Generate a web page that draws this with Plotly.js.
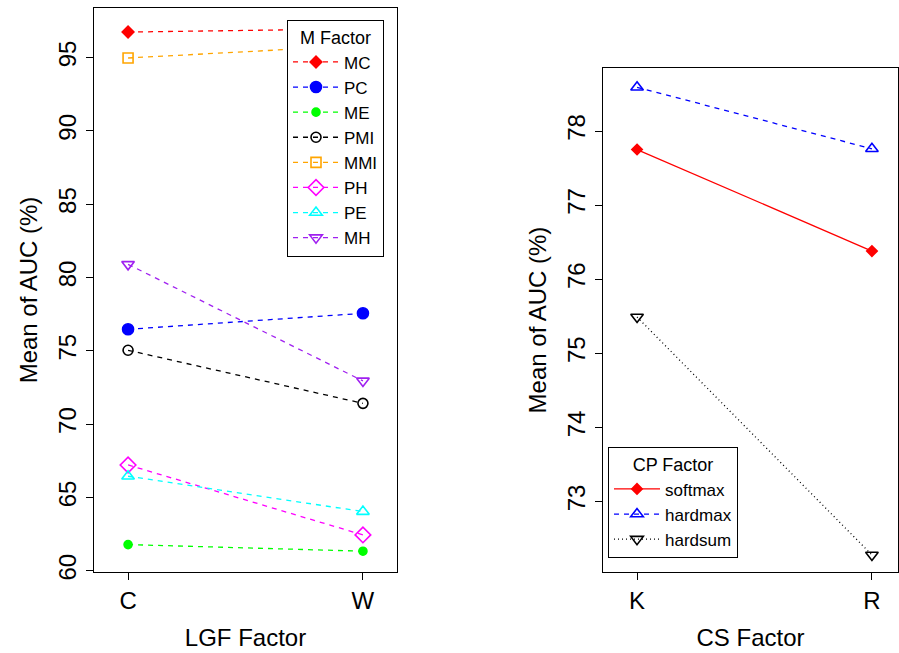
<!DOCTYPE html>
<html>
<head>
<meta charset="utf-8">
<script src="https://cdn.plot.ly/plotly-3.0.1.min.js"></script>
<style>html,body{margin:0;padding:0;background:#fff;}#plot{width:899px;height:653px;}</style>
</head>
<body>
<div id="plot"></div>
<script>
// ---- Left panel data: Mean AUC (%) by LGF factor and M factor ----
const lgfLevels = ['C', 'W'];
const mNames = ['MC', 'PC', 'ME', 'PMI', 'MMI', 'PH', 'PE', 'MH'];
const mcVals  = [96.74, 96.96];
const pcVals  = [76.47, 77.56];
const meVals  = [61.79, 61.34];
const pmiVals = [75.04, 71.42];
const mmiVals = [94.97, 95.83];
const phVals  = [67.22, 62.45];
const peVals  = [66.45, 64.04];
const mhVals  = [80.90, 72.95];

// ---- Right panel data: Mean AUC (%) by CS factor and CP factor ----
const csLevels = ['K', 'R'];
const cpNames = ['softmax', 'hardmax', 'hardsum'];
const softmaxVals = [77.75, 76.38];
const hardmaxVals = [78.59, 77.76];
const hardsumVals = [75.49, 72.28];

const FONT = 'Liberation Sans, Arial, Helvetica, sans-serif';

const leftValues = [mcVals, pcVals, meVals, pmiVals, mmiVals, phVals, peVals, mhVals];
const leftStyles = [
  {color: '#FF0000', symbol: 'diamond', size: 9},
  {color: '#0000FF', symbol: 'circle', size: 11},
  {color: '#00FF00', symbol: 'circle', size: 8},
  {color: '#000000', symbol: 'circle-open', size: 10},
  {color: '#FFA500', symbol: 'square-open', size: 10},
  {color: '#FF00FF', symbol: 'diamond-open', size: 12},
  {color: '#00FFFF', symbol: 'triangle-up-open', size: 11},
  {color: '#A020F0', symbol: 'triangle-down-open', size: 11}
];

const traces = [];
mNames.forEach((name, i) => {
  const s = leftStyles[i];
  traces.push({
    type: 'scatter', mode: 'lines+markers', name: name,
    x: lgfLevels, y: leftValues[i], xaxis: 'x', yaxis: 'y',
    legend: 'legend',
    line: {color: s.color, width: 1.3, dash: '5px,5px'},
    marker: {color: s.color, symbol: s.symbol, size: s.size, line: {color: s.color, width: 1.6}}
  });
});

const rightValues = [softmaxVals, hardmaxVals, hardsumVals];
const rightStyles = [
  {color: '#FF0000', symbol: 'diamond', size: 8, dash: 'solid'},
  {color: '#0000FF', symbol: 'triangle-up-open', size: 11, dash: '5px,5px'},
  {color: '#000000', symbol: 'triangle-down-open', size: 11, dash: '1px,3px'}
];
cpNames.forEach((name, i) => {
  const s = rightStyles[i];
  traces.push({
    type: 'scatter', mode: 'lines+markers', name: name,
    x: csLevels, y: rightValues[i], xaxis: 'x2', yaxis: 'y2',
    legend: 'legend2',
    line: {color: s.color, width: 1.3, dash: s.dash},
    marker: {color: s.color, symbol: s.symbol, size: s.size, line: {color: s.color, width: 1.6}}
  });
});

const axBase = {
  showline: true, mirror: true, linecolor: '#000', linewidth: 1,
  ticks: 'outside', ticklen: 7, tickcolor: '#000', tickwidth: 1,
  showgrid: false, zeroline: false, automargin: false,
  tickfont: {family: FONT, size: 24, color: '#000'}
};

const layout = {
  width: 899, height: 653,
  margin: {l: 0, r: 0, t: 0, b: 0},
  paper_bgcolor: '#fff', plot_bgcolor: '#fff',
  font: {family: FONT, color: '#000'},
  showlegend: true,
  xaxis: Object.assign({}, axBase, {
    domain: [94/899, 397/899], anchor: 'y', type: 'category',
    range: [-0.145, 1.145],
    title: {text: 'LGF Factor', font: {family: FONT, size: 24}, standoff: 16}
  }),
  yaxis: Object.assign({}, axBase, {
    domain: [81/653, 645/653], anchor: 'x',
    range: [59.92, 98.38], tickvals: [60, 65, 70, 75, 80, 85, 90, 95], tickangle: -90,
    title: {text: 'Mean of AUC (%)', font: {family: FONT, size: 24}, standoff: 10}
  }),
  xaxis2: Object.assign({}, axBase, {
    domain: [603/899, 898/899], anchor: 'y2', type: 'category',
    range: [-0.145, 1.111],
    title: {text: 'CS Factor', font: {family: FONT, size: 24}, standoff: 16}
  }),
  yaxis2: Object.assign({}, axBase, {
    domain: [81/653, 585/653], anchor: 'x2',
    range: [72.05, 78.85], tickvals: [73, 74, 75, 76, 77, 78], tickangle: -90,
    title: {text: 'Mean of AUC (%)', font: {family: FONT, size: 24}, standoff: 10}
  }),
  legend: {
    x: 287/899, y: 1 - 20/653, xanchor: 'left', yanchor: 'top',
    bgcolor: '#fff', bordercolor: '#000', borderwidth: 1,
    font: {family: FONT, size: 17, color: '#000'},
    title: {text: 'M Factor', side: 'top center', font: {family: FONT, size: 18}},
    tracegroupgap: 0, itemwidth: 46
  },
  legend2: {
    x: 608/899, y: 1 - 447/653, xanchor: 'left', yanchor: 'top',
    bgcolor: '#fff', bordercolor: '#000', borderwidth: 1,
    font: {family: FONT, size: 17, color: '#000'},
    title: {text: 'CP Factor', side: 'top center', font: {family: FONT, size: 18}},
    tracegroupgap: 0, itemwidth: 46
  }
};

Plotly.newPlot('plot', traces, layout, {staticPlot: true, displayModeBar: false});
</script>
</body>
</html>
